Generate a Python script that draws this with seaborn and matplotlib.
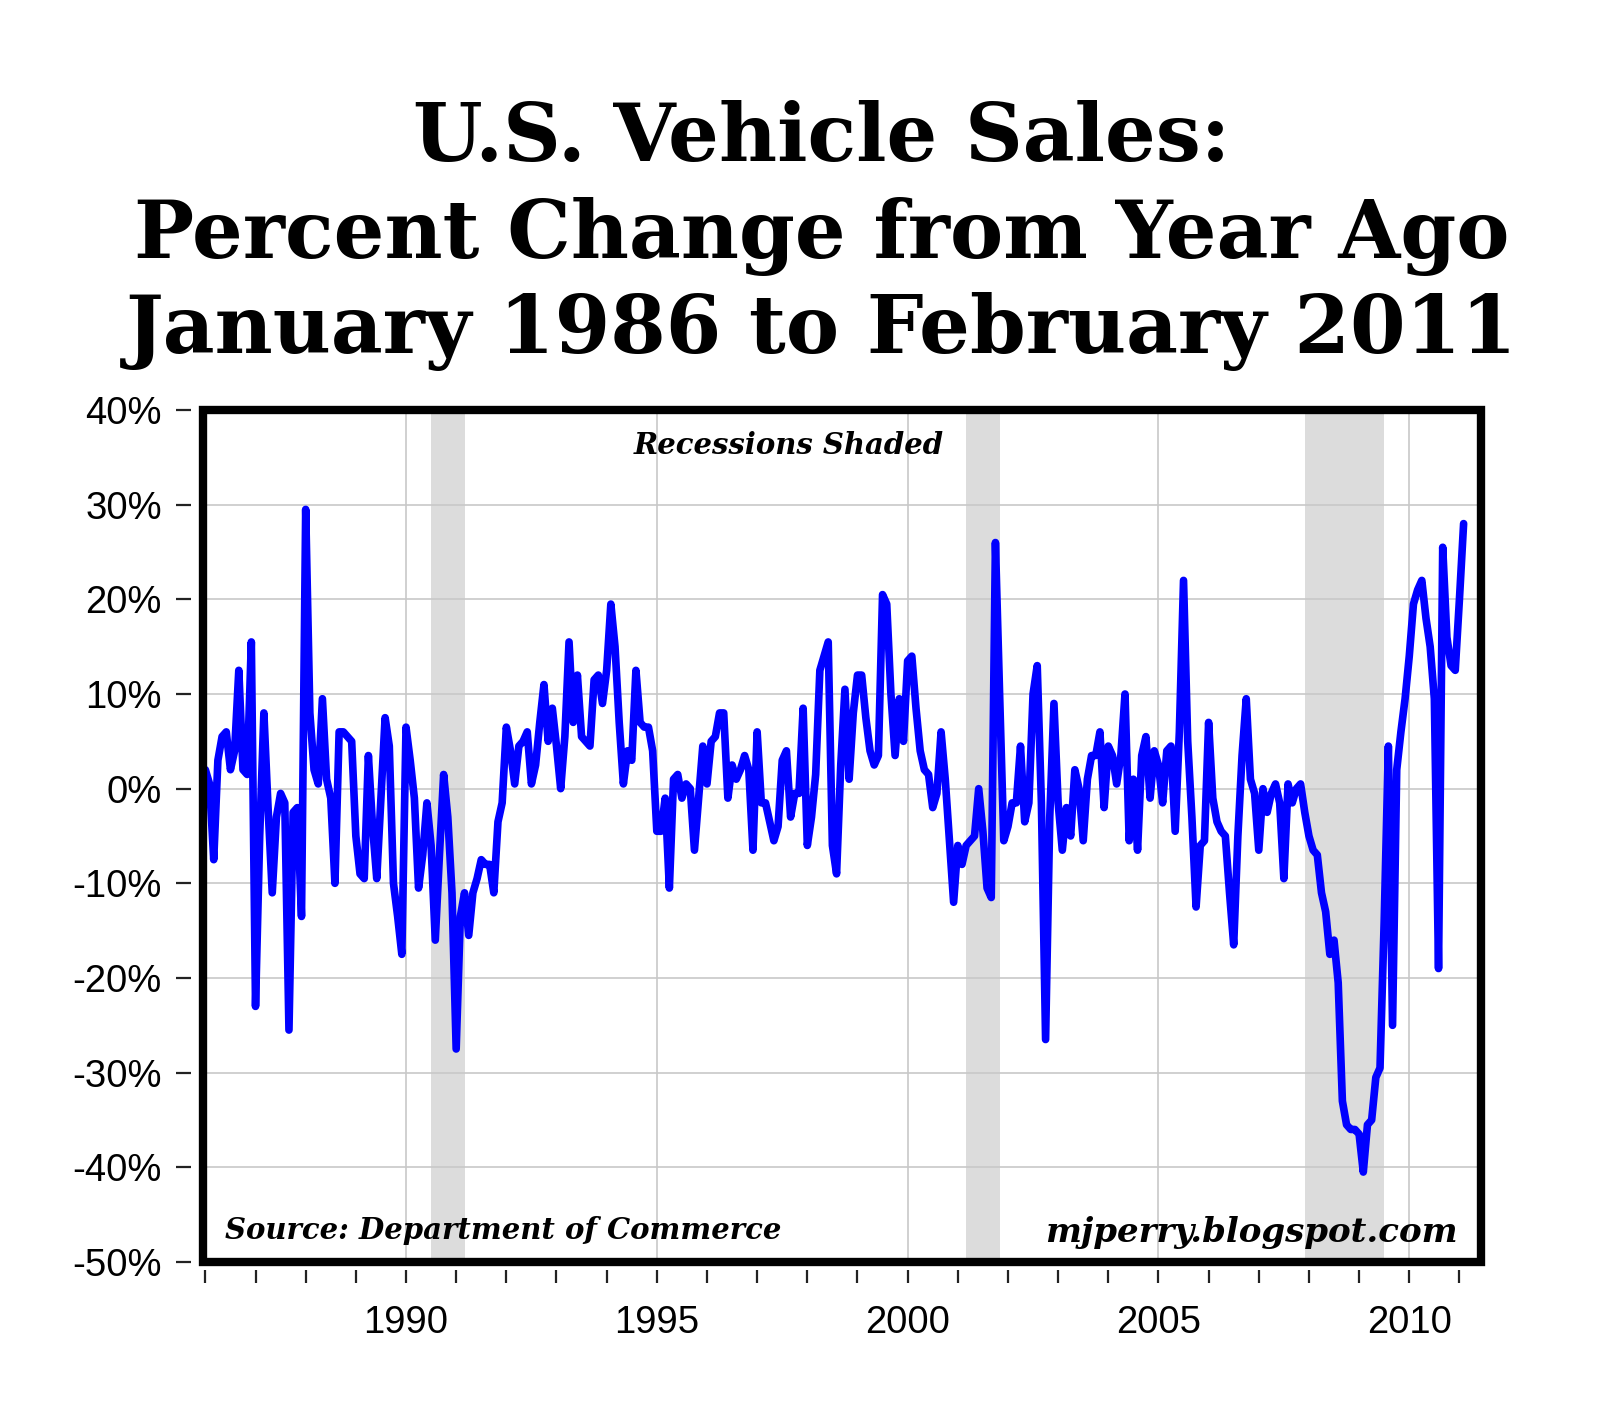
import numpy as np
import pandas as pd
import matplotlib
matplotlib.use("Agg")
import matplotlib.pyplot as plt
from matplotlib.patches import Rectangle
from matplotlib.ticker import MultipleLocator, FuncFormatter
import seaborn as sns

# monthly % change from a year ago (Jan 1986 .. Feb 2011)
y1986 = [2, 0.5, -7.5, 3, 5.5, 6, 2, 4, 12.5, 2, 1.5, 15.5]
y1987 = [-23, -5, 8, -2, -11, -3, -0.5, -1.5, -25.5, -2.5, -2, -13.5]
y1988 = [29.5, 8, 2, 0.5, 9.5, 1, -1, -10, 6, 6, 5.5, 5]
y1989 = [-5, -9, -9.5, 3.5, -4, -9.5, -1, 7.5, 4.5, -10, -13.5, -17.5]
y1990 = [6.5, 3, -1, -10.5, -7, -1.5, -6, -16, -7, 1.5, -3, -11]
y1991 = [-27.5, -13.5, -11, -15.5, -11, -9.5, -7.5, -8, -8, -11, -3.5, -1.5]
y1992 = [6.5, 4, 0.5, 4.5, 5, 6, 0.5, 2.5, 7, 11, 5, 8.5]
y1993 = [4.5, 0, 5.5, 15.5, 7, 12, 5.5, 5, 4.5, 11.5, 12, 9]
y1994 = [12.5, 19.5, 15, 7, 0.5, 4, 3, 12.5, 7, 6.5, 6.5, 4]
y1995 = [-4.5, -4.5, -1, -10.5, 1, 1.5, -1, 0.5, 0, -6.5, -1, 4.5]
y1996 = [0.5, 5, 5.5, 8, 8, -1, 2.5, 1, 2, 3.5, 2, -6.5]
y1997 = [6, -1.5, -1.5, -3.5, -5.5, -4, 3, 4, -3, -0.5, -0.5, 8.5]
y1998 = [-6, -3, 1.5, 12.5, 14, 15.5, -6, -9, 2.5, 10.5, 1, 8]
y1999 = [12, 12, 7.5, 4, 2.5, 3.5, 20.5, 19.5, 10, 3.5, 9.5, 5]
y2000 = [13.5, 14, 8.5, 4, 2, 1.5, -2, -0.5, 6, 1, -5.5, -12]
y2001 = [-6, -8, -6, -5.5, -5, 0, -4.5, -10.5, -11.5, 26, 10, -5.5]
y2002 = [-4, -1.5, -1.5, 4.5, -3.5, -1.5, 10, 13, -1.5, -26.5, -3, 9]
y2003 = [-1.5, -6.5, -2, -5, 2, 0, -5.5, 1, 3.5, 3.5, 6, -2]
y2004 = [4.5, 3.5, 0.5, 3.5, 10, -5.5, 1, -6.5, 3.5, 5.5, -1, 4]
y2005 = [2.5, -1.5, 4, 4.5, -4.5, 6, 22, 5, -3, -12.5, -6, -5.5]
y2006 = [7, -1, -3.5, -4.5, -5, -11, -16.5, -5, 3.5, 9.5, 1, -0.5]
y2007 = [-6.5, 0, -2.5, -0.5, 0.5, -1.5, -9.5, 0.5, -1.5, 0, 0.5, -2.5]
y2008 = [-5, -6.5, -7, -11, -13, -17.5, -16, -20.5, -33, -35.5, -36, -36]
y2009 = [-36.5, -40.5, -35.5, -35, -30.5, -29.5, -14, 4.5, -25, 2, 6, 9.5]
y2010 = [14, 19.5, 21, 22, 18, 15, 9.5, -19, 25.5, 16, 13, 12.5]
y2011 = [20, 28]

recession_start = [(1990, 7), (2001, 3), (2007, 12)]
recession_end = [(1991, 3), (2001, 11), (2009, 7)]

y_ticks = [40, 30, 20, 10, 0, -10, -20, -30, -40, -50]

values = (y1986 + y1987 + y1988 + y1989 + y1990 + y1991 + y1992 + y1993 + y1994
          + y1995 + y1996 + y1997 + y1998 + y1999 + y2000 + y2001 + y2002 + y2003
          + y2004 + y2005 + y2006 + y2007 + y2008 + y2009 + y2010 + y2011)
df = pd.DataFrame({"t": 1986 + np.arange(len(values)) / 12.0, "pct": values})

sns.set_theme(style="white")
plt.rcParams['font.family'] = ['Liberation Sans', 'DejaVu Sans']
plt.rcParams['text.color'] = 'black'
plt.rcParams['xtick.color'] = 'black'
plt.rcParams['ytick.color'] = 'black'

fig = plt.figure(figsize=(16, 14.22), dpi=100)
W, H = 1600, 1422
left, right, top, bottom = 203, 1481, 410, 1262
ax = fig.add_axes([left / W, 1 - bottom / H, (right - left) / W, (bottom - top) / H])

def dec(ym):
    return ym[0] + (ym[1] - 1) / 12.0

for s, e in zip(recession_start, recession_end):
    ax.axvspan(dec(s), dec(e), color="#dcdcdc", lw=0, zorder=0)

sns.lineplot(data=df, x="t", y="pct", ax=ax, color="#0000ff", linewidth=5.5,
             zorder=3, sort=False)

ax.set_xlim(1985.953, 2011.43)
ax.set_ylim(-50, 40)
ax.set_yticks(y_ticks)
ax.yaxis.set_major_formatter(FuncFormatter(lambda v, p: f"{v:.0f}%"))
ax.xaxis.set_major_locator(MultipleLocator(5))
ax.xaxis.set_minor_locator(MultipleLocator(1))
ax.xaxis.set_major_formatter(FuncFormatter(lambda v, p: f"{int(round(v))}"))
ax.set_xlabel("")
ax.set_ylabel("")

ax.grid(True, which="major", color="#c8c8c8", linewidth=1.2, zorder=1)
ax.set_axisbelow(True)

for side in ["top", "right"]:
    ax.spines[side].set_visible(False)
ax.spines["left"].set_position(("outward", 8.6))
ax.spines["bottom"].set_position(("outward", 5.8))
ax.spines["left"].set_color("none")
ax.spines["bottom"].set_color("none")

ax.tick_params(axis="y", which="both", direction="out", length=11, width=1.6,
               color="#222222", pad=10, labelsize=27.5, left=True)
ax.tick_params(axis="x", which="both", direction="out", length=9.5, width=1.6,
               color="#222222", pad=16, labelsize=27.5, bottom=True)

ax.add_patch(Rectangle((0, 0), 1, 1, transform=ax.transAxes, fill=False,
                       lw=6, edgecolor="black", joinstyle="miter",
                       clip_on=False, zorder=10))

serif = ["DejaVu Serif"]
ax.text(0.458, 0.958, "Recessions Shaded", transform=ax.transAxes,
        ha="center", va="center", fontsize=21, fontweight="bold",
        fontstyle="italic", family=serif)
ax.text(0.017, 0.037, "Source: Department of Commerce", transform=ax.transAxes,
        ha="left", va="center", fontsize=21, fontweight="bold",
        fontstyle="italic", family=serif)
ax.text(0.982, 0.035, "mjperry.blogspot.com", transform=ax.transAxes,
        ha="right", va="center", fontsize=24.5, fontweight="bold",
        fontstyle="italic", family=serif)

title_lines = ["U.S. Vehicle Sales:", "Percent Change from Year Ago",
               "January 1986 to February 2011"]
baselines = [161, 258, 353]
for line, b in zip(title_lines, baselines):
    fig.text(822 / W, 1 - b / H, line, ha="center", va="baseline",
             fontsize=57.5, fontweight="bold", family=serif)

fig.savefig("out.png", dpi=100, facecolor="white")
